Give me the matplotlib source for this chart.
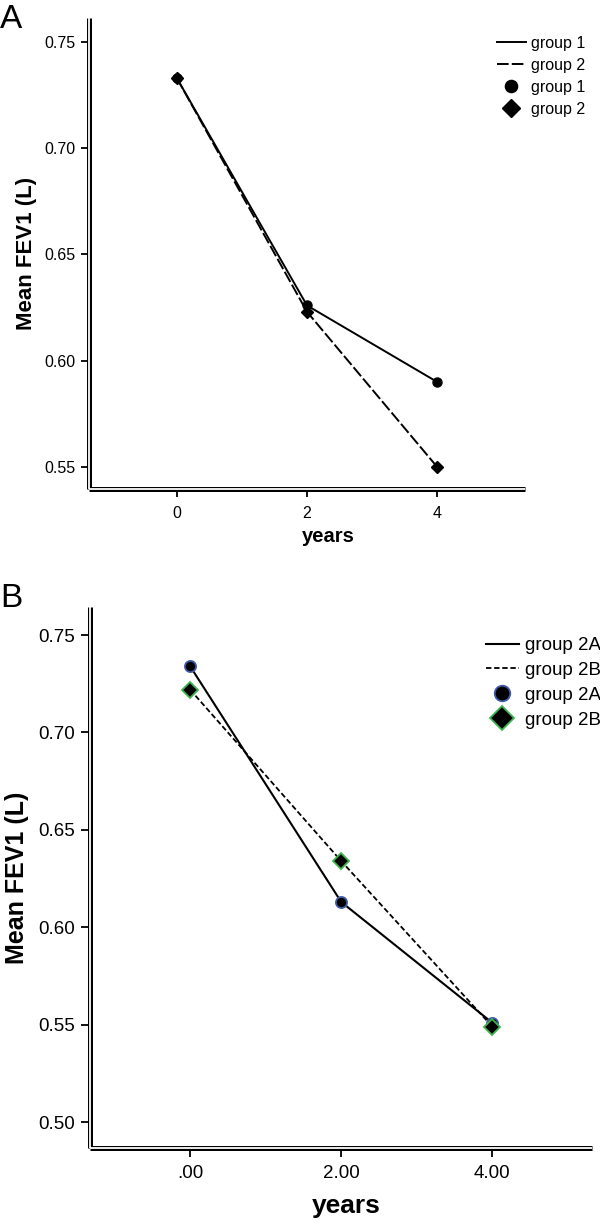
import numpy as np
import matplotlib
matplotlib.use("Agg")
import matplotlib.pyplot as plt

plt.rcParams['font.family'] = ['Liberation Sans', 'DejaVu Sans']

# datos panel A
years_a = [0, 2, 4]
grupo1 = [0.733, 0.626, 0.590]
grupo2 = [0.733, 0.623, 0.550]
labels_a = ["group 1", "group 2"]
xticks_a = ["0", "2", "4"]
yticks_a = [0.55, 0.60, 0.65, 0.70, 0.75]

# datos panel B
years_b = [0, 2, 4]
grupo2A = [0.734, 0.613, 0.551]
grupo2B = [0.722, 0.634, 0.549]
labels_b = ["group 2A", "group 2B"]
xticks_b = [".00", "2.00", "4.00"]
yticks_b = [0.50, 0.55, 0.60, 0.65, 0.70, 0.75]

fig = plt.figure(figsize=(6, 12.2), dpi=100)


def doble_eje(ax, lw_out=3.6, lw_in=1.3):
    # ejes estilo SPSS: doble linea en izquierda y abajo
    for s in ['top', 'right']:
        ax.spines[s].set_visible(False)
    for s in ['left', 'bottom']:
        ax.spines[s].set_linewidth(lw_out)
        ax.spines[s].set_capstyle('butt')
    ax.plot([0, 0], [0, 1], transform=ax.transAxes, color='white', lw=lw_in,
            clip_on=False, zorder=5, solid_capstyle='butt')
    ax.plot([0, 1], [0, 0], transform=ax.transAxes, color='white', lw=lw_in,
            clip_on=False, zorder=5, solid_capstyle='butt')


#%% Panel A
axA = fig.add_axes([89/600, 1-489/1220, (525-89)/600, (489-18)/1220])
doble_eje(axA)
l1, = axA.plot(years_a, grupo1, color='black', lw=1.4, zorder=3)
l2, = axA.plot(years_a, grupo2, color='black', lw=1.4, dashes=(6, 1.6), zorder=3)
m1, = axA.plot(years_a, grupo1, 'o', color='black', ms=6.5, ls='none', zorder=4)
m2, = axA.plot(years_a, grupo2, 'D', color='black', ms=6.5, ls='none', zorder=4)
axA.set_xlim(-1.35, 5.35)
axA.set_ylim(0.5396, 0.7613)
axA.set_xticks(years_a)
axA.set_xticklabels(xticks_a)
axA.set_yticks(yticks_a)
axA.set_yticklabels(["%.2f" % v for v in yticks_a])
axA.tick_params(labelsize=11.5, length=6, width=1.3, pad=4)
axA.tick_params(axis='x', pad=6)
axA.set_ylabel("Mean FEV1 (L)", fontsize=16, fontweight='bold', labelpad=5)
axA.set_xlabel("years", fontsize=14.5, fontweight='bold')
axA.xaxis.set_label_coords(0.55, -0.08)
fig.legend([l1, l2, m1, m2], labels_a + labels_a, loc='upper left',
           bbox_to_anchor=(497/600, 1-36/1220), frameon=False, fontsize=11.5,
           handlelength=1.8, handletextpad=0.35, labelspacing=0.43,
           borderpad=0, borderaxespad=0, markerscale=1.35)
fig.text(0.0, 1-4/1220, "A", fontsize=24, va='top', ha='left')

#%% Panel B
axB = fig.add_axes([90/600, 1-1148/1220, (592-90)/600, (1148-607)/1220])
doble_eje(axB)
l3, = axB.plot(years_b, grupo2A, color='black', lw=1.5, zorder=3)
l4, = axB.plot(years_b, grupo2B, color='black', lw=1.3, dashes=(3, 1.5), zorder=3)
m3, = axB.plot(years_b, grupo2A, 'o', mfc='black', mec='#3f5aa8', mew=1.3,
               ms=8, ls='none', zorder=4)
m4, = axB.plot(years_b, grupo2B, 'D', mfc='black', mec='#3cb54a', mew=1.3,
               ms=8.5, ls='none', zorder=4)
axB.set_xlim(-1.325, 5.32)
axB.set_ylim(0.4867, 0.7644)
axB.set_xticks(years_b)
axB.set_xticklabels(xticks_b)
axB.set_yticks(yticks_b)
axB.set_yticklabels(["%.2f" % v for v in yticks_b])
axB.tick_params(labelsize=13.5, length=6.5, width=1.3, pad=4)
axB.tick_params(axis='x', pad=6)
axB.set_ylabel("Mean FEV1 (L)", fontsize=18, fontweight='bold', labelpad=7)
axB.set_xlabel("years", fontsize=19, fontweight='bold')
axB.xaxis.set_label_coords(0.51, -0.085)
fig.legend([l3, l4, m3, m4], labels_b + labels_b, loc='upper left',
           bbox_to_anchor=(486/600, 1-637/1220), frameon=False, fontsize=13.5,
           handlelength=1.75, handletextpad=0.35, labelspacing=0.41,
           borderpad=0, borderaxespad=0, markerscale=1.4)
fig.text(0.0, 1-583/1220, "B", fontsize=24, va='top', ha='left')

fig.savefig("out.png", dpi=100)
